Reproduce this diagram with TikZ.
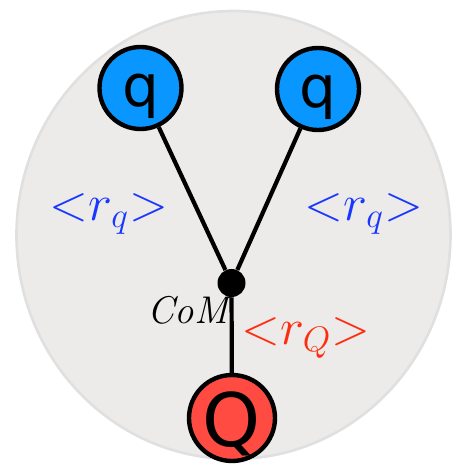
\documentclass[tikz,border=0pt]{standalone}
\usepackage{fontspec}
\newfontfamily\quarkfont{DejaVu Sans}
\definecolor{qblue}{RGB}{10,150,255}
\definecolor{Qred}{RGB}{255,75,65}
\definecolor{rqblue}{RGB}{25,55,255}
\definecolor{rQred}{RGB}{255,45,15}
\definecolor{bggray}{RGB}{236,235,234}
\definecolor{rimgray}{RGB}{224,224,224}
\newcommand{\meanr}[1]{\scalebox{1.4}{${<}r_{#1}{>}$}}
\begin{document}
\begin{tikzpicture}[
  quark/.style={circle,draw=black,line width=2.5pt,minimum size=1.64cm,inner sep=0pt,text depth=0pt},
  link/.style={line width=2.4pt},
  radius/.style={font=\fontsize{20}{22}\selectfont}]
\useasboundingbox (0,0) rectangle (9.2,9.4);
\draw[fill=bggray,draw=rimgray,line width=1.5pt] (4.67,4.70) ellipse (4.34 and 4.48);
% quarks and centre of mass
\node[quark,fill=qblue,text height=21.5pt,font=\quarkfont\fontsize{33}{33}\selectfont] (qleft) at (2.81,7.64) {q};
\node[quark,fill=qblue,text height=21.5pt,font=\quarkfont\fontsize{33}{33}\selectfont] (qright) at (6.36,7.62) {q};
\node[quark,fill=Qred,minimum size=1.72cm,text height=33pt,font=\quarkfont\fontsize{42}{42}\selectfont] (Qbot) at (4.64,1.04) {Q};
\node[circle,fill=black,minimum size=0.56cm,inner sep=0pt] (com) at (4.63,3.74) {};
\draw[link] (qleft) -- (com);
\draw[link] (qright) -- (com);
\draw[link] (com) -- (Qbot);
% labels
\node[radius,text=rqblue] (rqleft) at (2.18,5.12) {\meanr{q}};
\node[radius,text=rqblue] (rqright) at (7.28,5.12) {\meanr{q}};
\node[radius,text=rQred] (rQ) at (6.12,2.64) {\meanr{Q}};
\node[font=\fontsize{22}{24}\selectfont\itshape] (comlabel) at (3.76,3.2) {CoM};
\end{tikzpicture}
\end{document}
